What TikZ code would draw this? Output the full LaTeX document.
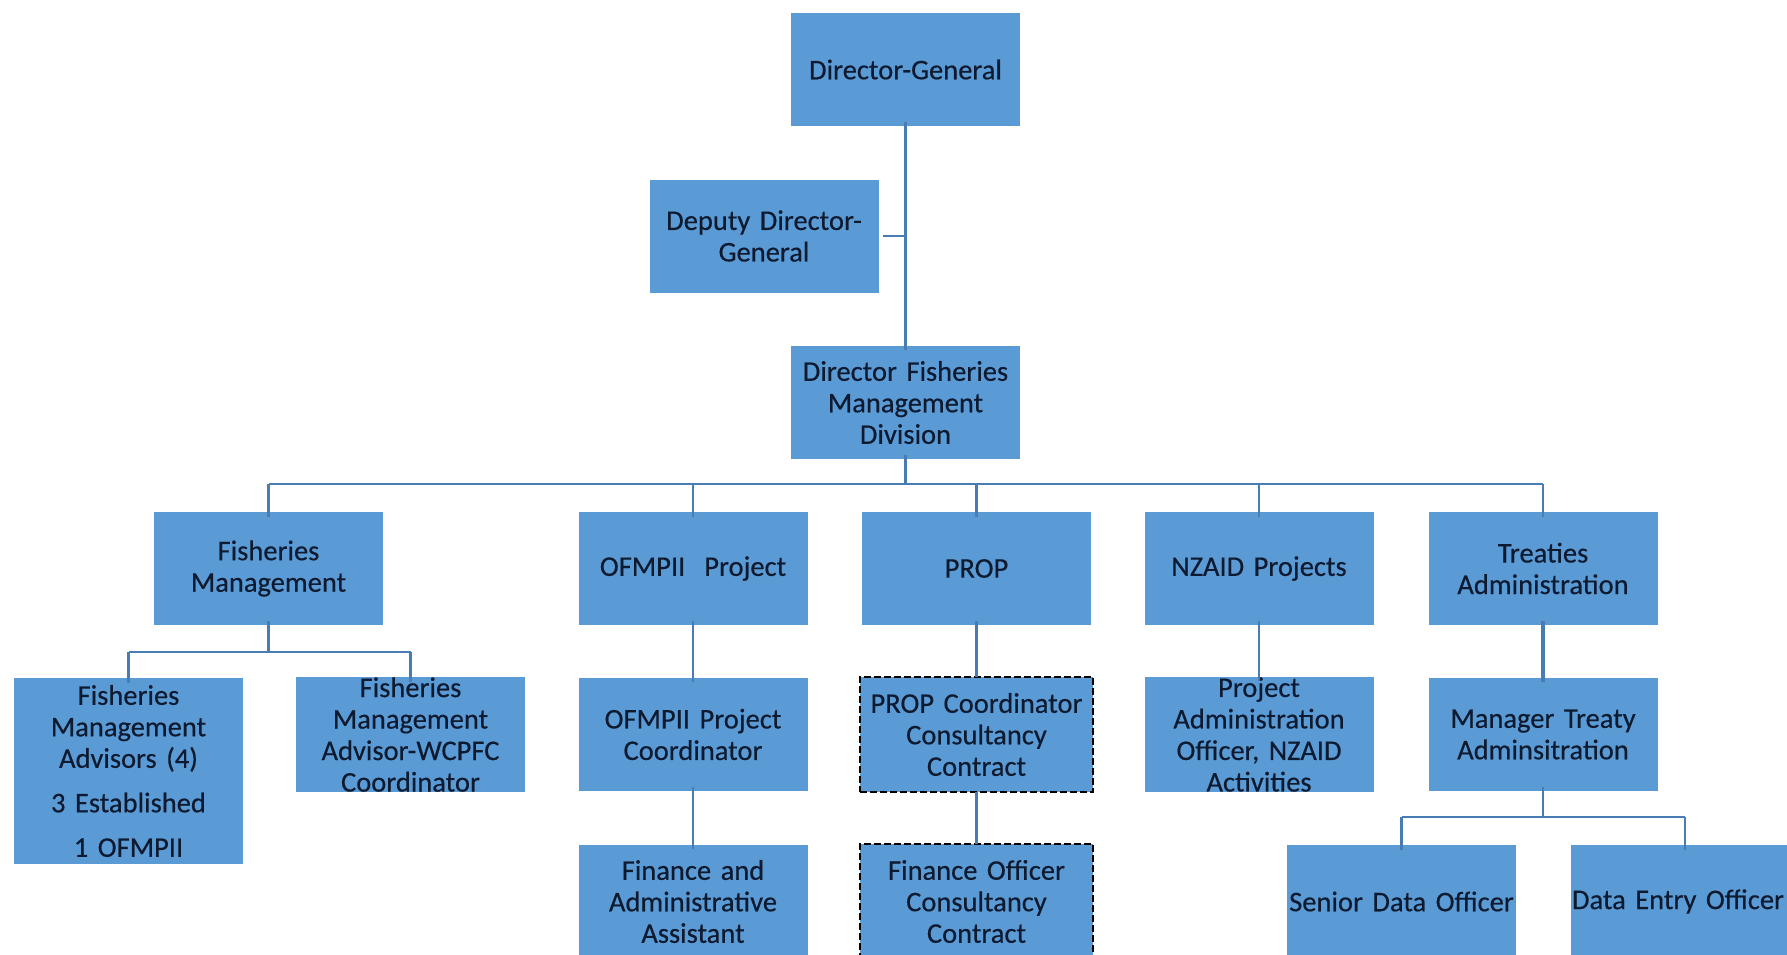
\documentclass[tikz,border=0pt]{standalone}
\usepackage{fontspec}
\setmainfont{Carlito}[WordSpace=0.85,FakeBold=0.4]
\definecolor{boxblue}{HTML}{5B9BD5}
\definecolor{linkblue}{HTML}{4A7CB4}
\definecolor{inkdark}{HTML}{0E1A30}
\begin{document}
\begin{tikzpicture}[x=1pt,y=-1pt,
  unit/.style={rectangle,fill=boxblue,draw=none,minimum width=229pt,minimum height=113pt,
    inner sep=0pt,text width=226pt,align=center,text=inkdark,
    font=\fontsize{28.5}{31.5}\selectfont},
  contract/.style={unit,draw=black,dashed,line width=2.4pt,dash pattern=on 7pt off 3pt,
    minimum width=233pt,minimum height=115pt},
  link/.style={draw=linkblue,line width=2.8pt}]
\useasboundingbox (0,0) rectangle (1787,954);
\clip (0,0) rectangle (1787,954);

% executive level
\node[unit] (dg) at (905.5,69.5) {Director-General};
\node[unit] (ddg) at (764,236) {Deputy Director-\\General};
\node[unit] (dfmd) at (905.5,402.5) {Director Fisheries\\Management\\Division};

% sections
\node[unit] (fm) at (268.5,568.5) {Fisheries\\Management};
\node[unit] (ofp) at (693,568.5) {OFMPII\ \ Project};
\node[unit] (prop) at (976.5,568.5) {PROP};
\node[unit] (nz) at (1259,568.5) {NZAID Projects};
\node[unit] (tr) at (1543,568.5) {Treaties\\Administration};

% staff
\node[unit,minimum height=186pt] (fma) at (128.5,771) {Fisheries\\Management\\Advisors (4)\\[13pt]3 Established\\[13pt]1 OFMPII};
\node[unit] (wc) at (410.5,734.5) {Fisheries\\Management\\Advisor-WCPFC\\Coordinator};
\node[unit] (ofc) at (693,734.5) {OFMPII Project\\Coordinator};
\node[contract] (pc) at (976.5,734.5) {PROP Coordinator\\Consultancy\\Contract};
\node[unit] (pa) at (1259,734.5) {Project\\Administration\\Officer, NZAID\\Activities};
\node[unit] (mt) at (1543,734.5) {Manager Treaty\\Adminsitration};

\node[unit] (fa) at (693,901.5) {Finance and\\Administrative\\Assistant};
\node[contract] (fo) at (976.5,901.5) {Finance Officer\\Consultancy\\Contract};
\node[unit] (sd) at (1401.5,901.5) {Senior Data Officer};
\node[unit] (de) at (1685,901.5) {Data Entry Officer\hspace*{14pt}};

% bus levels
\coordinate (busA) at (905.5,484);
\coordinate (busB) at (268.5,652);
\coordinate (busC) at (1543,817);
\coordinate (ddgj) at (905.5,236);

% executive links
\draw[link] ([yshift=4pt]dg.south) -- ([yshift=-4pt]dfmd.north);
\draw[link] ([xshift=4pt]ddg.east) -- (ddgj);

% division bus
\draw[link] ([yshift=4pt]dfmd.south) -- (busA);
\draw[link] (busA -| fm) -- (busA -| tr);
\foreach \n in {fm,ofp,prop,nz,tr}
  \draw[link] (busA -| \n) -- ([yshift=-5pt]\n.north);

% fisheries management bus
\draw[link] ([yshift=4pt]fm.south) -- (busB);
\draw[link] (busB -| fma) -- (busB -| wc);
\foreach \n in {fma,wc}
  \draw[link] (busB -| \n) -- ([yshift=-5pt]\n.north);

% project chains
\draw[link] ([yshift=4pt]ofp.south) -- ([yshift=-4pt]ofc.north);
\draw[link] ([yshift=4pt]ofc.south) -- ([yshift=-4pt]fa.north);
\draw[link,line width=3.5pt] ([yshift=4pt]prop.south) -- ([yshift=-1pt]pc.north);
\draw[link,line width=3.5pt] ([yshift=1pt]pc.south) -- ([yshift=-1pt]fo.north);
\draw[link] ([yshift=4pt]nz.south) -- ([yshift=-4pt]pa.north);
\draw[link,line width=3.5pt] ([yshift=4pt]tr.south) -- ([yshift=-4pt]mt.north);

% treaty bus
\draw[link] ([yshift=4pt]mt.south) -- (busC);
\draw[link] (busC -| sd) -- (busC -| de);
\foreach \n in {sd,de}
  \draw[link] (busC -| \n) -- ([yshift=-5pt]\n.north);
\end{tikzpicture}
\end{document}
